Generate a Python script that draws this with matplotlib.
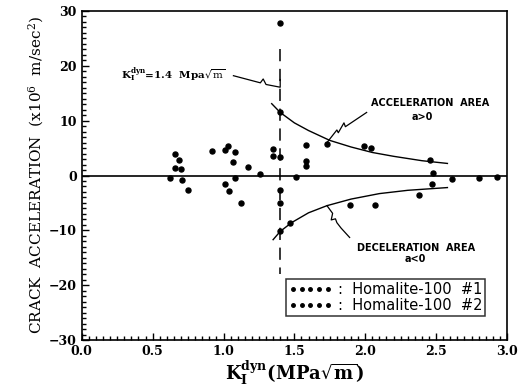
import matplotlib
matplotlib.use("Agg")
import matplotlib.pyplot as plt
from matplotlib.ticker import MultipleLocator

plt.rcParams['mathtext.fontset'] = 'dejavuserif'

# Homalite-100 #1
k1 = [1.08, 1.26, 1.47, 1.58, 1.35, 1.35, 0.92]
a1 = [-0.4, 0.3, -8.6, 5.5, 4.9, 3.6, 4.4]
# Homalite-100 #2
k2 = [0.655, 0.683, 0.66, 0.70, 0.62, 0.71, 0.75, 1.01, 1.03, 1.01, 1.04, 1.12,
      1.08, 1.07, 1.17, 1.40, 1.40, 1.40, 1.40, 1.40, 1.40, 1.51, 1.58, 1.58,
      1.73, 1.89, 1.99, 2.04, 2.46, 2.48, 2.47, 2.61, 2.80, 2.93, 2.38, 2.07]
a2 = [4.0, 2.9, 1.3, 1.1, -0.4, -0.9, -2.7, 4.7, 5.4, -1.5, -2.9, -5.1,
      4.2, 2.5, 1.5, 27.9, 11.5, 3.3, -2.6, -5.1, -10.2, -0.2, 2.7, 1.8,
      5.7, -5.4, 5.3, 5.1, 2.9, 0.4, -1.5, -0.7, -0.5, -0.2, -3.6, -5.3]

# boundary curves
acc_k = [1.34, 1.40, 1.50, 1.60, 1.75, 1.90, 2.05, 2.20, 2.40, 2.58]
acc_a = [13.1, 11.5, 9.6, 8.2, 6.4, 5.2, 4.2, 3.5, 2.7, 2.2]
dec_k = [1.35, 1.40, 1.48, 1.60, 1.73, 1.90, 2.10, 2.30, 2.58]
dec_a = [-11.7, -10.2, -8.6, -6.8, -5.5, -4.3, -3.3, -2.7, -2.2]

k_dyn = 1.4

fig = plt.figure(figsize=(5.21, 3.87), dpi=100)
ax = fig.add_axes([0.157, 0.1214, 0.816, 0.8502])

ax.axhline(0, color='black', lw=1.2, zorder=1)
ax.plot([k_dyn, k_dyn], [23, -18], color='black', lw=1.1, ls=(0, (8, 5)))
ax.plot(acc_k, acc_a, color='black', lw=1.0)
ax.plot(dec_k, dec_a, color='black', lw=1.0)

ax.plot(k1, a1, ls='none', marker='o', ms=3.6, color='black', label=':  Homalite-100  #1')
ax.plot(k2, a2, ls='none', marker='o', ms=3.6, color='black', label=':  Homalite-100  #2')

# annotations
ax.text(0.28, 18.4, r'$\mathbf{K_I^{dyn}}$=1.4  Mpa$\sqrt{\mathrm{m}}$', fontsize=7.5,
        family='DejaVu Serif', fontweight='bold', va='center', ha='left')
ax.plot([1.07, 1.26, 1.28, 1.30, 1.36, 1.40, 1.40], [18.2, 16.9, 17.6, 16.6, 16.3, 16.1, 17.5],
        color='black', lw=0.9)
ax.text(2.46, 13.3, 'ACCELERATION  AREA', fontsize=7, family='DejaVu Sans',
        fontweight='bold', ha='center', va='center')
ax.text(2.40, 10.6, 'a>0', fontsize=7, family='DejaVu Sans', fontweight='bold',
        ha='center', va='center')
ax.plot([2.01, 1.86, 1.85, 1.81, 1.80, 1.73], [11.5, 8.9, 9.6, 7.8, 8.3, 6.0], color='black', lw=0.9)
ax.text(2.36, -13.3, 'DECELERATION  AREA', fontsize=7, family='DejaVu Sans',
        fontweight='bold', ha='center', va='center')
ax.text(2.35, -15.3, 'a<0', fontsize=7, family='DejaVu Sans', fontweight='bold',
        ha='center', va='center')
ax.plot([1.89, 1.83, 1.80, 1.79, 1.76, 1.77, 1.73], [-11.3, -9.6, -8.6, -7.9, -8.1, -6.9, -5.5],
        color='black', lw=0.9)

ax.set_xlim(0, 3.0)
ax.set_ylim(-30, 30)
ax.xaxis.set_major_locator(MultipleLocator(0.5))
ax.xaxis.set_minor_locator(MultipleLocator(0.05))
ax.yaxis.set_major_locator(MultipleLocator(10))
ax.yaxis.set_minor_locator(MultipleLocator(1))
ax.tick_params(which='both', direction='in', top=False, right=False, width=1)
ax.tick_params(which='major', length=5, labelsize=9)
ax.tick_params(which='minor', length=3)
ax.set_xticklabels(['%.1f' % v for v in ax.get_xticks()], family='DejaVu Serif', fontweight='bold')
ax.set_yticks([-30, -20, -10, 0, 10, 20, 30])
ax.set_yticklabels(['\u221230', '\u221220', '\u221210', '0', '10', '20', '30'],
                   family='DejaVu Serif', fontweight='bold')
for s in ax.spines.values():
    s.set_linewidth(1.2)

ax.set_ylabel(r'CRACK  ACCELERATION  (x10$^6$  m/sec$^2$)', fontsize=11,
              family='DejaVu Serif', labelpad=2)
ax.set_xlabel(r'$\mathbf{K_I^{dyn}}$(MPa$\sqrt{\mathbf{m}}$)', fontsize=13,
              family='DejaVu Serif', fontweight='bold', labelpad=1)

leg = ax.legend(loc='lower left', bbox_to_anchor=(0.462, 0.052), numpoints=5,
                handlelength=3.0, handletextpad=0.4, fontsize=10.5, frameon=True,
                fancybox=False, edgecolor='black', borderpad=0.2, labelspacing=0.05,
                markerscale=0.7)
leg.get_frame().set_linewidth(1.1)

fig.savefig('out.png', dpi=100)
